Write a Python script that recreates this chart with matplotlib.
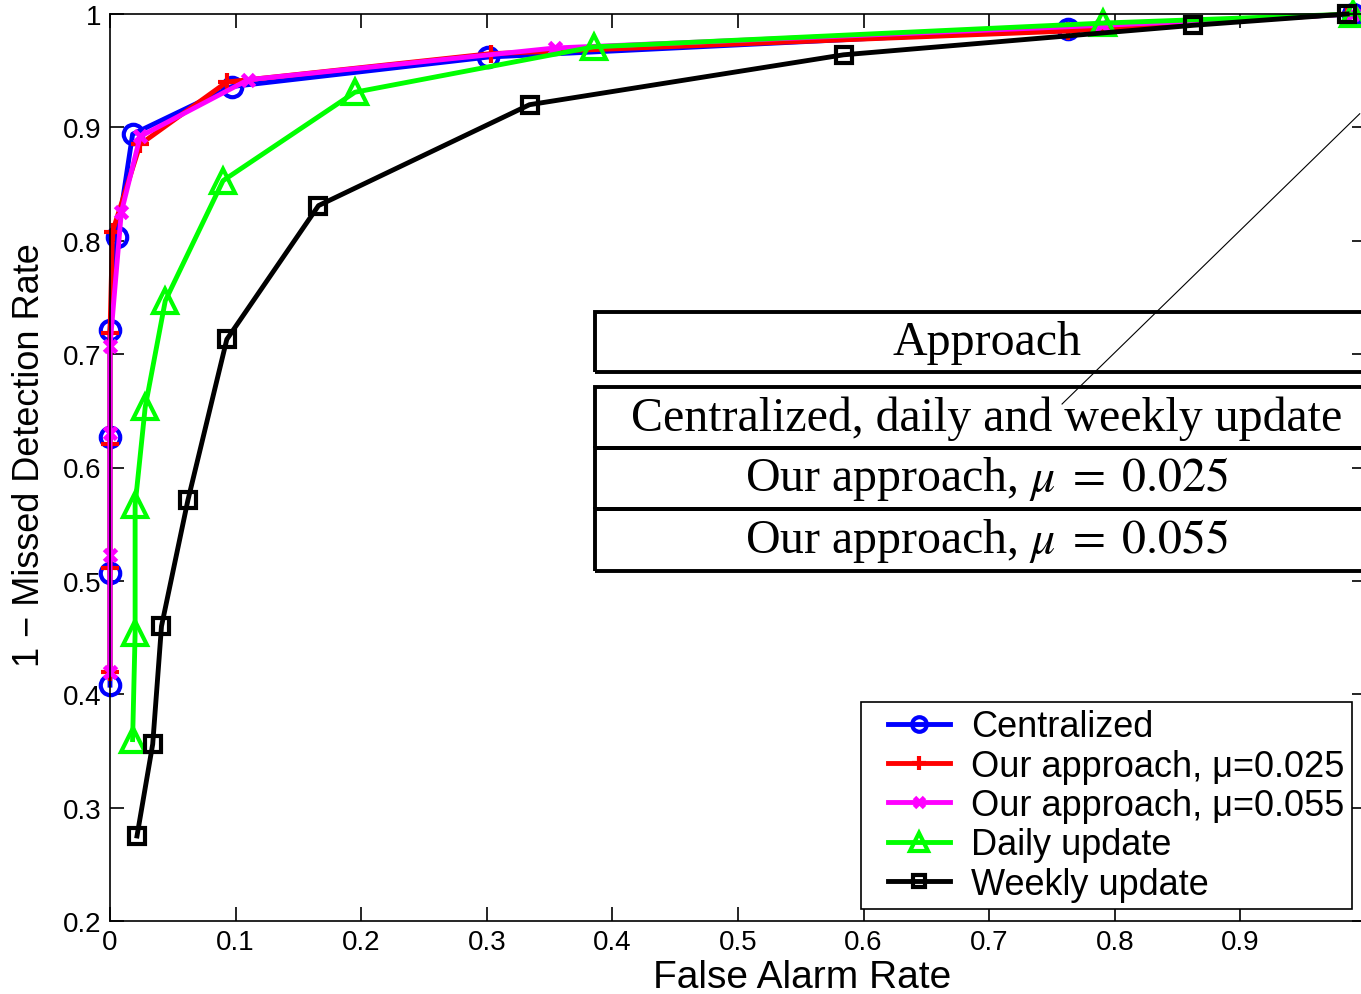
import matplotlib
matplotlib.use("Agg")
import matplotlib.pyplot as plt
from matplotlib.patches import Rectangle
from matplotlib.lines import Line2D
from matplotlib.legend_handler import HandlerLine2D

plt.rcParams['font.family'] = ['Liberation Sans', 'DejaVu Sans']
plt.rcParams['mathtext.fontset'] = 'stix'

# ---- data ----
cent_x = [0.0, 0.0, 0.0, 0.0, 0.0056, 0.018, 0.097, 0.301, 0.763, 0.99]
cent_y = [0.408, 0.507, 0.627, 0.721, 0.803, 0.894, 0.936, 0.962, 0.987, 1.0]

mu025_x = [0.0, 0.0, 0.0, 0.0, 0.002, 0.024, 0.093, 0.303, 0.763, 0.985]
mu025_y = [0.420, 0.511, 0.621, 0.719, 0.808, 0.885, 0.940, 0.965, 0.985, 1.0]

mu055_x = [0.0, 0.0, 0.0, 0.0, 0.009, 0.024, 0.110, 0.354, 0.79, 0.99]
mu055_y = [0.420, 0.523, 0.630, 0.707, 0.825, 0.892, 0.942, 0.970, 0.990, 1.0]

daily_x = [0.018, 0.020, 0.020, 0.028, 0.044, 0.090, 0.195, 0.385, 0.791, 0.99]
daily_y = [0.360, 0.454, 0.567, 0.653, 0.747, 0.853, 0.931, 0.971, 0.992, 1.0]

weekly_x = [0.0215, 0.034, 0.041, 0.062, 0.093, 0.166, 0.334, 0.584, 0.862, 0.985]
weekly_y = [0.275, 0.356, 0.460, 0.571, 0.713, 0.831, 0.920, 0.964, 0.990, 1.0]

legend_labels = ['Centralized', 'Our approach, \u03bc=0.025', 'Our approach, \u03bc=0.055',
                 'Daily update', 'Weekly update']
table_rows = ['Approach', 'Centralized, daily and weekly update',
              r'Our approach, $\mu\;=\;0.025$', r'Our approach, $\mu\;=\;0.055$']

xticks = [0, 0.1, 0.2, 0.3, 0.4, 0.5, 0.6, 0.7, 0.8, 0.9, 1.0]
xticklabels = ['0', '0.1', '0.2', '0.3', '0.4', '0.5', '0.6', '0.7', '0.8', '0.9', '']
yticks = [0.2, 0.3, 0.4, 0.5, 0.6, 0.7, 0.8, 0.9, 1.0]
yticklabels = ['0.2', '0.3', '0.4', '0.5', '0.6', '0.7', '0.8', '0.9', '1']

W, H = 1361, 995
fig = plt.figure(figsize=(W / 100, H / 100), dpi=100)
ax = fig.add_axes([110 / W, (H - 922) / H, 1256 / W, 907 / H])

lw = 3.5
mew = 3.0
ax.plot(cent_x, cent_y, color='#0000ff', lw=lw, marker='o', ms=14, mew=mew,
        mfc='none', label=legend_labels[0], clip_on=False)
ax.plot(mu025_x, mu025_y, color='#ff0000', lw=lw, marker='+', ms=13, mew=mew,
        label=legend_labels[1], clip_on=False)
ax.plot(mu055_x, mu055_y, color='#ff00ff', lw=lw, marker='x', ms=9, mew=3.5,
        label=legend_labels[2], clip_on=False)
ax.plot(daily_x, daily_y, color='#00ff00', lw=lw, marker='^', ms=17, mew=mew,
        mfc='none', label=legend_labels[3], clip_on=False)
ax.plot(weekly_x, weekly_y, color='#000000', lw=lw, marker='s', ms=12, mew=mew,
        mfc='none', label=legend_labels[4], clip_on=False)

ax.set_xlim(0, 1)
ax.set_ylim(0.2, 1)
ax.set_xticks(xticks)
ax.set_xticklabels(xticklabels)
ax.set_yticks(yticks)
ax.set_yticklabels(yticklabels)
ax.tick_params(direction='in', length=10, width=1.2, top=True, right=True,
               labelsize=20, pad=6)
for s in ax.spines.values():
    s.set_linewidth(1.2)

ax.set_xlabel('False Alarm Rate', fontsize=28)
ax.xaxis.set_label_coords((802 - 110) / 1256, -(978 - 922) / 907)
ax.xaxis.label.set_va('center')
ax.set_ylabel('1 \u2212 Missed Detection Rate', fontsize=26)
ax.yaxis.set_label_coords(-(110 - 30) / 1256, (922 - 455) / 907)
ax.yaxis.label.set_va('center')

leg = ax.legend(loc='lower right', bbox_to_anchor=(1352 / W, (H - 910) / H),
                bbox_transform=fig.transFigure, fontsize=26, numpoints=1,
                fancybox=False, framealpha=1, edgecolor='black',
                handlelength=2.27, handletextpad=0.6, borderpad=0.2,
                labelspacing=0.12, borderaxespad=0, markerscale=0.75,
                handler_map={Line2D: HandlerLine2D(xpad=0.55)})
leg.get_frame().set_linewidth(1.2)

# thin diagonal annotation line
ax.add_line(Line2D([0.995, 0.758], [0.912, 0.656], color='black', lw=0.8))

# overlaid table
rows_px = [(313, 373), (388, 449), (449, 510), (510, 572)]
left_px, right_px = 595, 1379
for (t, b), txt in zip(rows_px, table_rows):
    fig.add_artist(Rectangle((left_px / W, (H - b) / H), (right_px - left_px) / W,
                             (b - t) / H, transform=fig.transFigure,
                             fill=False, edgecolor='black', lw=2.8))
    fig.text((left_px + right_px) / 2 / W, (H - (t + b) / 2) / H, txt,
             ha='center', va='center', fontsize=34.5,
             family=['Liberation Serif', 'DejaVu Serif'])

fig.savefig('out.png', dpi=100)
